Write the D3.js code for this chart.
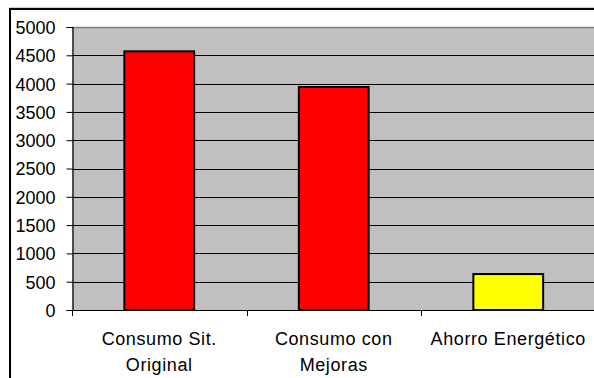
<!DOCTYPE html>
<html>
<head>
<meta charset="utf-8">
<script src="https://cdn.jsdelivr.net/npm/d3@7"></script>
<style>
  html, body { margin: 0; padding: 0; background: #fff; }
  svg { display: block; }
  text { font-family: "Liberation Sans", Arial, sans-serif; fill: #000; }
</style>
</head>
<body>
<svg id="chart" width="594" height="378"></svg>
<script>
// Energy consumption comparison (kWh)
const categories = [["Consumo Sit.", "Original"], ["Consumo con", "Mejoras"], ["Ahorro Energético"]];
const values = [4570, 3940, 635];
const barColors = ["#ff0000", "#ff0000", "#ffff00"];
const yTicks = [0, 500, 1000, 1500, 2000, 2500, 3000, 3500, 4000, 4500, 5000];

const svg = d3.select("#chart");
const plot = { left: 72, top: 27, right: 595.5, bottom: 310 };

// outer chart frame (continues past the right and bottom edges)
svg.append("rect")
  .attr("x", 10).attr("y", 9).attr("width", 700).attr("height", 500)
  .attr("fill", "#fff").attr("stroke", "#000").attr("stroke-width", 2);
svg.append("line")
  .attr("x1", 9).attr("x2", 594).attr("y1", 7.5).attr("y2", 7.5)
  .attr("stroke", "#d0d0d0").attr("stroke-width", 1);

const x = d3.scaleBand()
  .domain(d3.range(categories.length))
  .range([plot.left, plot.right])
  .paddingInner(0).paddingOuter(0);

const y = d3.scaleLinear()
  .domain([0, 5000])
  .range([plot.bottom, plot.top]);

// plot area
svg.append("rect")
  .attr("x", plot.left).attr("y", plot.top)
  .attr("width", plot.right - plot.left).attr("height", plot.bottom - plot.top)
  .attr("fill", "#c0c0c0");

// gridlines
svg.append("g")
  .selectAll("line")
  .data(yTicks.filter(d => d > 0 && d < 5000))
  .join("line")
  .attr("x1", plot.left).attr("x2", plot.right)
  .attr("y1", d => Math.round(y(d)) + 0.5).attr("y2", d => Math.round(y(d)) + 0.5)
  .attr("stroke", "#000").attr("stroke-width", 1);

// top border of plot area
svg.append("line")
  .attr("x1", plot.left).attr("x2", plot.right)
  .attr("y1", plot.top + 0.5).attr("y2", plot.top + 0.5)
  .attr("stroke", "#808080").attr("stroke-width", 1.5);

// bars
const barW = x.bandwidth() * 0.4;
svg.append("g")
  .selectAll("rect")
  .data(values)
  .join("rect")
  .attr("x", (d, i) => x(i) + (x.bandwidth() - barW) / 2)
  .attr("y", d => y(d))
  .attr("width", barW)
  .attr("height", d => y(0) - y(d))
  .attr("fill", (d, i) => barColors[i])
  .attr("stroke", "#000").attr("stroke-width", 2);

// y axis
const yAxis = d3.axisLeft(y).tickValues(yTicks).tickSize(6).tickPadding(11).tickFormat(d3.format("d"));
const gy = svg.append("g").attr("transform", `translate(${plot.left + 0.5},0)`).call(yAxis);
gy.select(".domain").attr("stroke", "#000").attr("stroke-width", 1.2);
gy.selectAll(".tick line").attr("stroke", "#000");
gy.selectAll(".tick text")
  .attr("font-size", 18).attr("font-family", "'Liberation Sans', Arial, sans-serif")
  .attr("fill", "#000").attr("dy", "0.36em");

// x axis: ticks at category boundaries
const boundaries = d3.range(categories.length + 1).map(i => plot.left + i * x.step());
const gx = svg.append("g");
gx.append("line")
  .attr("x1", plot.left).attr("x2", plot.right)
  .attr("y1", plot.bottom + 0.5).attr("y2", plot.bottom + 0.5)
  .attr("stroke", "#000").attr("stroke-width", 1.2);
gx.selectAll("line.tk")
  .data(boundaries)
  .join("line").attr("class", "tk")
  .attr("x1", d => Math.round(d) + 0.5).attr("x2", d => Math.round(d) + 0.5)
  .attr("y1", plot.bottom).attr("y2", plot.bottom + 6)
  .attr("stroke", "#000");

// category labels
const lbl = svg.append("g").selectAll("text")
  .data(categories)
  .join("text")
  .attr("text-anchor", "middle")
  .attr("font-size", 18)
  .attr("letter-spacing", "0.6px")
  .attr("x", (d, i) => x(i) + x.bandwidth() / 2)
  .attr("y", 345);
lbl.selectAll("tspan")
  .data(d => d)
  .join("tspan")
  .attr("x", function() { return d3.select(this.parentNode).attr("x"); })
  .attr("dy", (d, i) => i === 0 ? 0 : 25.5)
  .text(d => d);
</script>
</body>
</html>
